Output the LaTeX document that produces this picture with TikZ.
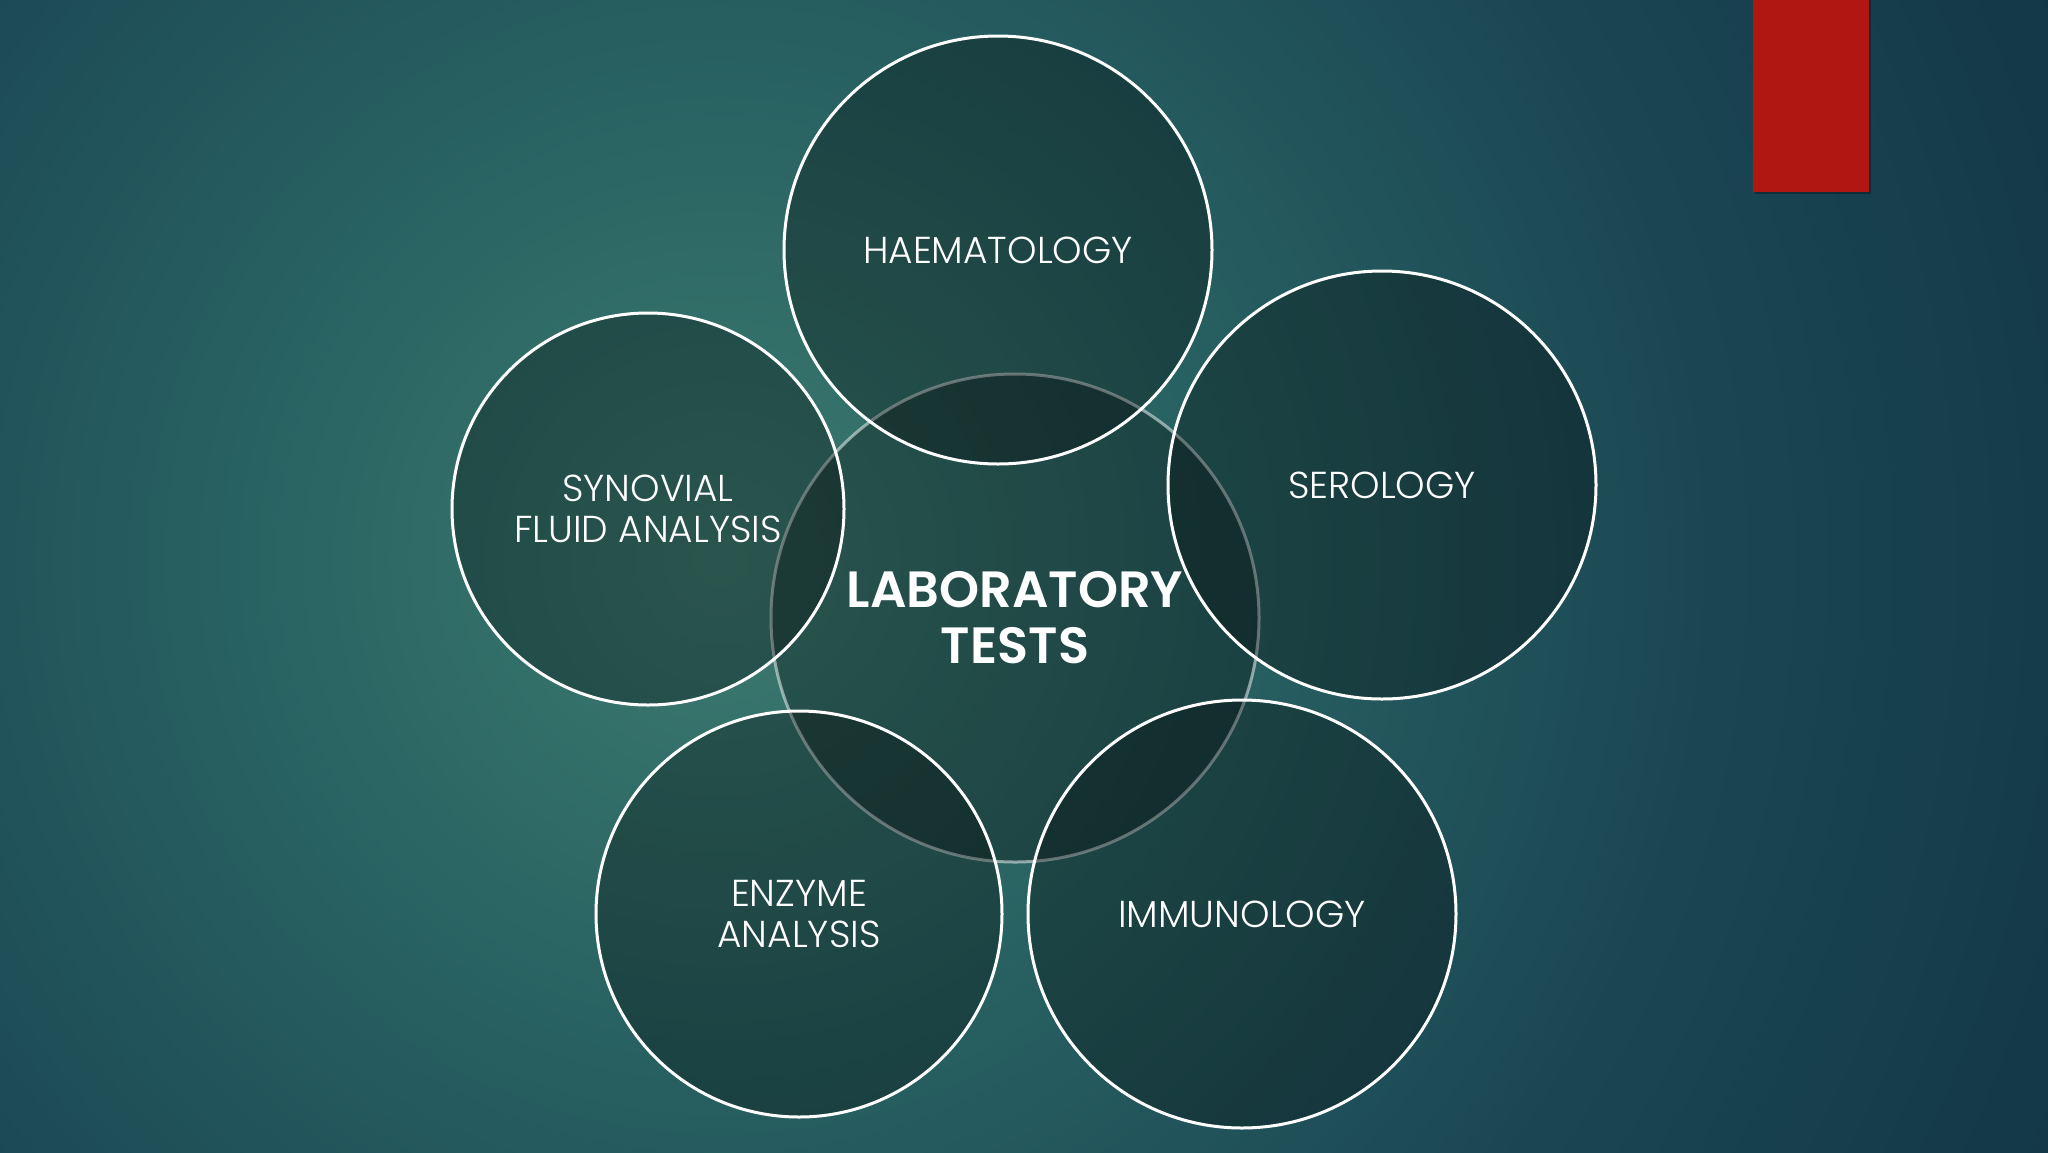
\documentclass[tikz,border=0pt]{standalone}
\usepackage{fontspec}
\setmainfont{Poppins}
\newfontfamily\lightf{Poppins}[UprightFont={* Light}]
\newfontfamily\boldf{Poppins}[UprightFont={* SemiBold}]
\definecolor{bgA}{HTML}{3D7B70}
\definecolor{bgB}{HTML}{2A6463}
\definecolor{bgC}{HTML}{1A4653}
\definecolor{bgD}{HTML}{123545}
\definecolor{redbar}{HTML}{B01612}
\pgfdeclareradialshading{bgshade}{\pgfpoint{0bp}{0bp}}{color(0bp)=(bgA); color(7bp)=(bgB); color(16bp)=(bgC); color(25bp)=(bgD); color(50bp)=(bgD)}
\tikzset{
  topic/.style={circle, draw=white, line width=3pt, fill=black, fill opacity=0.3,
    text opacity=1, text=white, align=center, inner sep=0pt,
    font=\lightf\fontsize{37.5}{41}\selectfont},
  hub/.style={circle, draw=white, draw opacity=0.5, line width=3pt, fill=black, fill opacity=0.3,
    text opacity=1, text=white, align=center, inner sep=0pt,
    font=\boldf\fontsize{51}{56}\selectfont},
}
\begin{document}
\begin{tikzpicture}[x=1pt,y=-1pt]
\useasboundingbox (0,0) rectangle (2048,1152);
\begin{scope}
\clip (0,0) rectangle (2048,1152);
\fill[bgD] (0,0) rectangle (2048,1152);
\shade[shading=bgshade] (720,560) circle (1550);
\end{scope}
% red bar
\fill[black, opacity=0.3] (1755,0) rectangle (1871,194);
\node[fill=redbar, minimum width=116pt, minimum height=192pt, inner sep=0pt, anchor=north west] (bar) at (1753,0) {};
% hub
\node[hub, minimum size=488pt] (lab) at (1015,618) {LABORATORY\\TESTS};
% topics
\node[topic, minimum size=428pt] (haem) at (998,250) {HAEMATOLOGY};
\node[topic, minimum size=428pt] (sero) at (1382,485) {SEROLOGY};
\node[topic, minimum size=392pt] (syn) at (648,509) {SYNOVIAL\\FLUID ANALYSIS};
\node[topic, minimum size=406pt] (enz) at (799,914) {ENZYME\\ANALYSIS};
\node[topic, minimum size=428pt] (imm) at (1242,914) {IMMUNOLOGY};
\end{tikzpicture}
\end{document}
